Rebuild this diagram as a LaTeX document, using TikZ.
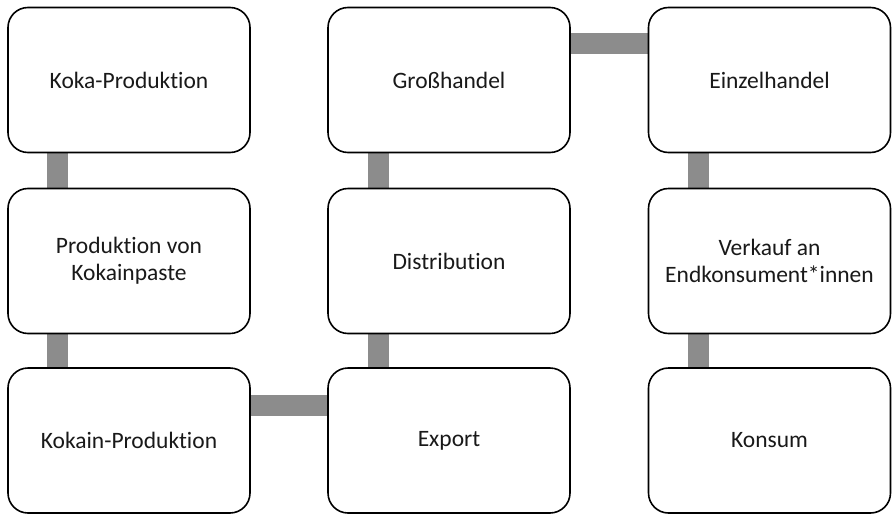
\documentclass[tikz,border=0pt]{standalone}
\usepackage{fontspec}
\setmainfont{Carlito}[Ligatures={NoCommon,NoContextual}]
\usetikzlibrary{backgrounds}
\definecolor{bargray}{RGB}{140,140,140}
\begin{document}
\begin{tikzpicture}[x=1pt,y=-1pt,
  stage/.style={draw=black,line width=1.6pt,rounded corners=20pt,fill=white,
    minimum width=242pt,minimum height=145pt,align=center,inner sep=0pt,
    font=\fontsize{23.5}{27}\selectfont,text=black!90},
  bar/.style={draw=bargray,line width=21pt,line cap=butt}]
\useasboundingbox (0,0) rectangle (893,514);
% boxes
\node[stage] (koka) at (129,80) {Koka-Produktion};
\node[stage] (paste) at (129,261) {Produktion von\\Kokainpaste};
\node[stage] (kokain) at (129,440.5) {Kokain-Produktion};
\node[stage] (gross) at (449,80) {Großhandel};
\node[stage] (distr) at (449,261) {Distribution};
\node[stage] (export) at (449,440.5) {Export};
\node[stage] (einzel) at (769.5,80) {Einzelhandel};
\node[stage] (verkauf) at (769.5,261) {Verkauf an\\Endkonsument*innen};
\node[stage] (konsum) at (769.5,440.5) {Konsum};
% connectors (behind boxes)
\begin{scope}[on background layer]
\draw[bar] ([xshift=-71.5pt]koka.south) -- ([xshift=-71.5pt]paste.north);
\draw[bar] ([xshift=-71.5pt]paste.south) -- ([xshift=-71.5pt]kokain.north);
\draw[bar] ([yshift=35pt]kokain.east) -- ([yshift=35pt]export.west);
\draw[bar] ([xshift=-71pt]export.north) -- ([xshift=-71pt]distr.south);
\draw[bar] ([xshift=-71pt]distr.north) -- ([xshift=-71pt]gross.south);
\draw[bar] ([yshift=36.5pt]gross.east) -- ([yshift=36.5pt]einzel.west);
\draw[bar] ([xshift=-71pt]einzel.south) -- ([xshift=-71pt]verkauf.north);
\draw[bar] ([xshift=-71pt]verkauf.south) -- ([xshift=-71pt]konsum.north);
\end{scope}
\end{tikzpicture}
\end{document}
